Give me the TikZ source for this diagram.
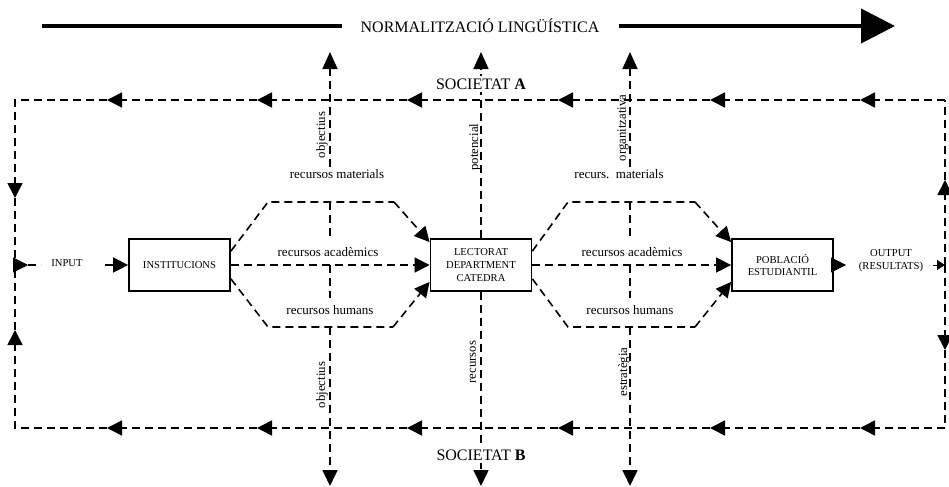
\documentclass[tikz,border=0pt]{standalone}
\usepackage{fontspec}
\setmainfont{Liberation Serif}
\usetikzlibrary{arrows.meta}
\begin{document}
\begin{tikzpicture}[x=0.5pt,y=-0.5pt,
  dsh/.style={line width=0.8pt, dash pattern=on 4pt off 2.5pt},
  tri/.style={-{Triangle[length=7.5pt,width=7.5pt]}},
  smalltri/.style={-{Triangle[length=4pt,width=5pt]}},
  boxnode/.style={draw, line width=0.9pt, minimum width=50.5pt, minimum height=26pt, align=center, font=\fontsize{5.3}{6.4}\selectfont, inner sep=0pt},
  small/.style={font=\fontsize{5.3}{6.4}\selectfont, align=center, inner sep=0pt},
  lbl/.style={font=\fontsize{6.5}{7.5}\selectfont, inner sep=1pt},
  vlbl/.style={font=\fontsize{6.4}{7.5}\selectfont, rotate=90, inner sep=0pt},
  soc/.style={font=\fontsize{8}{9.6}\selectfont, fill=white, inner sep=1.5pt}]
\useasboundingbox (0,0) rectangle (949,487);

% boxes
\node[boxnode] (inst) at (179.5,265) {INSTITUCIONS};
\node[boxnode] (lect) at (481,265) {LECTORAT\\DEPARTMENT\\CATEDRA};
\node[boxnode] (pobl) at (782.5,265) {POBLACIÓ\\ESTUDIANTIL};

% title arrow
\node[font=\fontsize{8}{9.6}\selectfont, inner sep=0pt] (title) at (480,26) {NORMALITZACIÓ LINGÜÍSTICA};
\coordinate (tl) at (42,26);
\coordinate (tlm) at (342,26);
\coordinate (trm) at (619,26);
\coordinate (tr) at (895,26);
\draw[line width=2pt] (tl) -- (tlm);
\draw[line width=2pt, -{Triangle[length=17pt,width=17pt]}] (trm) -- (tr);

% societat labels
\node[soc] (socA) at (481,84) {SOCIETAT \textbf{A}};
\node[soc] (socB) at (481,455) {SOCIETAT \textbf{B}};

% loop coordinates
\foreach \n/\x in {0/945,1/860,2/710,3/558,4/407,5/257,6/107}{
  \coordinate (a\n) at (\x,100);
  \coordinate (b\n) at (\x,428);
}
\coordinate (aL) at (15,100);
\coordinate (bL) at (15,428);
\coordinate (lA) at (15,198);
\coordinate (lM) at (15,265);
\coordinate (lB) at (15,330);
\coordinate (rA) at (945,180);
\coordinate (rM) at (945,265);
\coordinate (rB) at (945,350);

% top (societat A) line, leftwards
\draw[dsh,tri] (a0) -- (a1);
\draw[dsh,tri] (a1) -- (a2);
\draw[dsh,tri] (a2) -- (a3);
\draw[dsh,tri] (a3) -- (a4);
\draw[dsh,tri] (a4) -- (a5);
\draw[dsh,tri] (a5) -- (a6);
\draw[dsh,tri] (a6) -- (aL) -- (lA);
\draw[dsh] (lA) -- (lM);
% bottom (societat B) line, leftwards
\draw[dsh,tri] (b0) -- (b1);
\draw[dsh,tri] (b1) -- (b2);
\draw[dsh,tri] (b2) -- (b3);
\draw[dsh,tri] (b3) -- (b4);
\draw[dsh,tri] (b4) -- (b5);
\draw[dsh,tri] (b5) -- (b6);
\draw[dsh,tri] (b6) -- (bL) -- (lB);
\draw[dsh] (lB) -- (lM);
% right side
\draw[dsh,tri] (rM) -- (rA);
\draw[dsh] (rA) -- (a0);
\draw[dsh,tri] (rM) -- (rB);
\draw[dsh] (rB) -- (b0);

% input
\coordinate (inA) at (28,265);
\coordinate (inC) at (41,265);
\coordinate (inB) at (105,265);
\node[small] (input) at (67,263) {INPUT};
\draw[tri] (lM) -- (inA);
\draw[dsh] (inA) -- (inC);
\draw[dsh,tri] (inB) -- (inst.west);

% output
\coordinate (outA) at (846,265);
\coordinate (outB) at (933,265);
\node[small] (output) at (891,261) {OUTPUT\\(RESULTATS)};
\draw[tri] (pobl.east) -- (outA);
\draw[smalltri] (outB) -- (rM);

% left hexagon
\coordinate (h1) at (268,202);
\coordinate (h2) at (394,202);
\coordinate (h3) at (268,327);
\coordinate (h4) at (393,327);
\draw[dsh] ([yshift=-6.5pt]inst.north east) -- (h1) -- (h2);
\draw[dsh,tri] (h2) -- ([yshift=-2pt]lect.north west);
\draw[dsh] ([yshift=6.5pt]inst.south east) -- (h3) -- (h4);
\draw[dsh,tri] (h4) -- ([yshift=5pt]lect.south west);
\draw[dsh,tri] (inst.east) -- (lect.west);

% right hexagon
\coordinate (k1) at (568,202);
\coordinate (k2) at (695,202);
\coordinate (k3) at (568,327);
\coordinate (k4) at (695,327);
\draw[dsh] ([yshift=-6.5pt]lect.north east) -- (k1) -- (k2);
\draw[dsh,tri] (k2) -- ([yshift=-2pt]pobl.north west);
\draw[dsh] ([yshift=6.5pt]lect.south east) -- (k3) -- (k4);
\draw[dsh,tri] (k4) -- ([yshift=5pt]pobl.south west);
\draw[dsh,tri] (lect.east) -- (pobl.west);

% vertical lines
\foreach \v/\x in {p/330,q/630}{
  \coordinate (\v t) at (\x,52);
  \coordinate (\v a) at (\x,167);
  \coordinate (\v b) at (\x,202);
  \coordinate (\v c) at (\x,238);
  \coordinate (\v d) at (\x,265);
  \coordinate (\v e) at (\x,298);
  \coordinate (\v f) at (\x,327);
  \coordinate (\v g) at (\x,486);
  \draw[dsh,-{Triangle[length=8.5pt,width=7.5pt]}] (\v a) -- (\v t);
  \draw[dsh] (\v b) -- (\v c);
  \draw[dsh] (\v d) -- (\v e);
  \draw[dsh,-{Triangle[length=8pt,width=7.5pt]}] (\v f) -- (\v g);
}
\coordinate (mt) at (481,52);
\coordinate (mb) at (481,486);
\draw[dsh,-{Triangle[length=8.5pt,width=7.5pt]}] (lect.north) -- (mt);
\draw[dsh,-{Triangle[length=8pt,width=7.5pt]}] (lect.south) -- (mb);
% redraw societat labels over the middle line
\node[soc] at (socA) {SOCIETAT \textbf{A}};
\node[soc] at (socB) {SOCIETAT \textbf{B}};

% resource labels
\node[lbl] (lrm) at (337,174) {recursos materials};
\node[lbl] (lra) at (328,252) {recursos acadèmics};
\node[lbl] (lrh) at (330,310) {recursos humans};
\node[lbl] (rrm) at (619,174) {recurs.\ \ materials};
\node[lbl] (rra) at (632,252) {recursos acadèmics};
\node[lbl] (rrh) at (630,310) {recursos humans};

% rotated labels
\node[vlbl] (obj1) at (322,135) {objectius};
\node[vlbl] (pot) at (475,147) {potencial};
\node[vlbl] (org) at (623,128) {organitzativa};
\node[vlbl] (obj2) at (322,385) {objectius};
\node[vlbl] (rec) at (473,362) {recursos};
\node[vlbl] (est) at (624,372) {estratègia};
\end{tikzpicture}
\end{document}
